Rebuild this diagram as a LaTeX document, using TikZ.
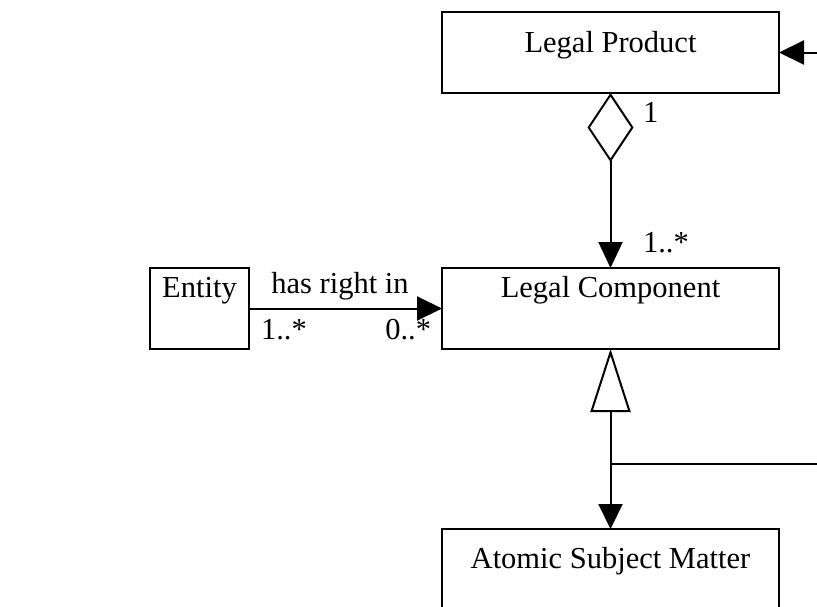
\documentclass[tikz,border=0pt]{standalone}
\usepackage{fontspec}
\setmainfont{Liberation Serif}
\usetikzlibrary{arrows.meta}
\begin{document}
\begin{tikzpicture}[x=1pt, y=-1pt,
  line width=2pt,
  every node/.style={font=\fontsize{30.5}{36}\selectfont},
  classbox/.style={draw, rectangle, inner sep=0pt, outer sep=0pt,
    minimum width=337pt, minimum height=81pt},
  caption/.style={anchor=base, inner sep=0pt},
  mult/.style={anchor=base west, inner sep=0pt},
  navarrow/.style={-{Triangle[length=25pt, width=24pt]}},
  aggregation/.style={{Diamond[open, length=69pt, width=46pt]}-{Triangle[length=26pt, width=24pt]}},
  generalization/.style={-{Triangle[open, length=63pt, width=40pt]}}
]
\useasboundingbox (0,0) rectangle (817,606);

% class boxes
\node[classbox] (lp) at (610.5,52.5) {};
\node[classbox] (lc) at (610.5,308.5) {};
\node[classbox, minimum width=99pt] (ent) at (199.5,308.5) {};
\node[classbox] (asm) at (610.5,569.5) {};

% class names
\node[caption] (lpname) at (610.5,52) {Legal Product};
\node[caption] (lcname) at (610.5,297) {Legal Component};
\node[caption] (entname) at (199.5,297) {Entity};
\node[caption] (asmname) at (610.5,568) {Atomic Subject Matter};

% free ends and junction
\coordinate (incoming) at (817,52.5);
\coordinate (junction) at (610.5,464);
\coordinate (branch) at (817,464);

% connectors
\draw[navarrow] (incoming) -- (lp.east);
\draw[aggregation] (lp.south) -- (lc.north);
\draw[navarrow] (ent.east) -- (lc.west);
\draw[generalization] (junction) -- (lc.south);
\draw[navarrow] (junction) -- (asm.north);
\draw (junction) -- (branch);

% association label and multiplicities
\node[caption] (assoc) at (340,293) {has right in};
\node[mult] (m1) at (642,122) {1};
\node[mult] (m2) at (642,252) {1..*};
\node[mult] (m3) at (260,339) {1..*};
\node[caption, anchor=base east] (m4) at (432,339) {0..*};
\end{tikzpicture}
\end{document}
